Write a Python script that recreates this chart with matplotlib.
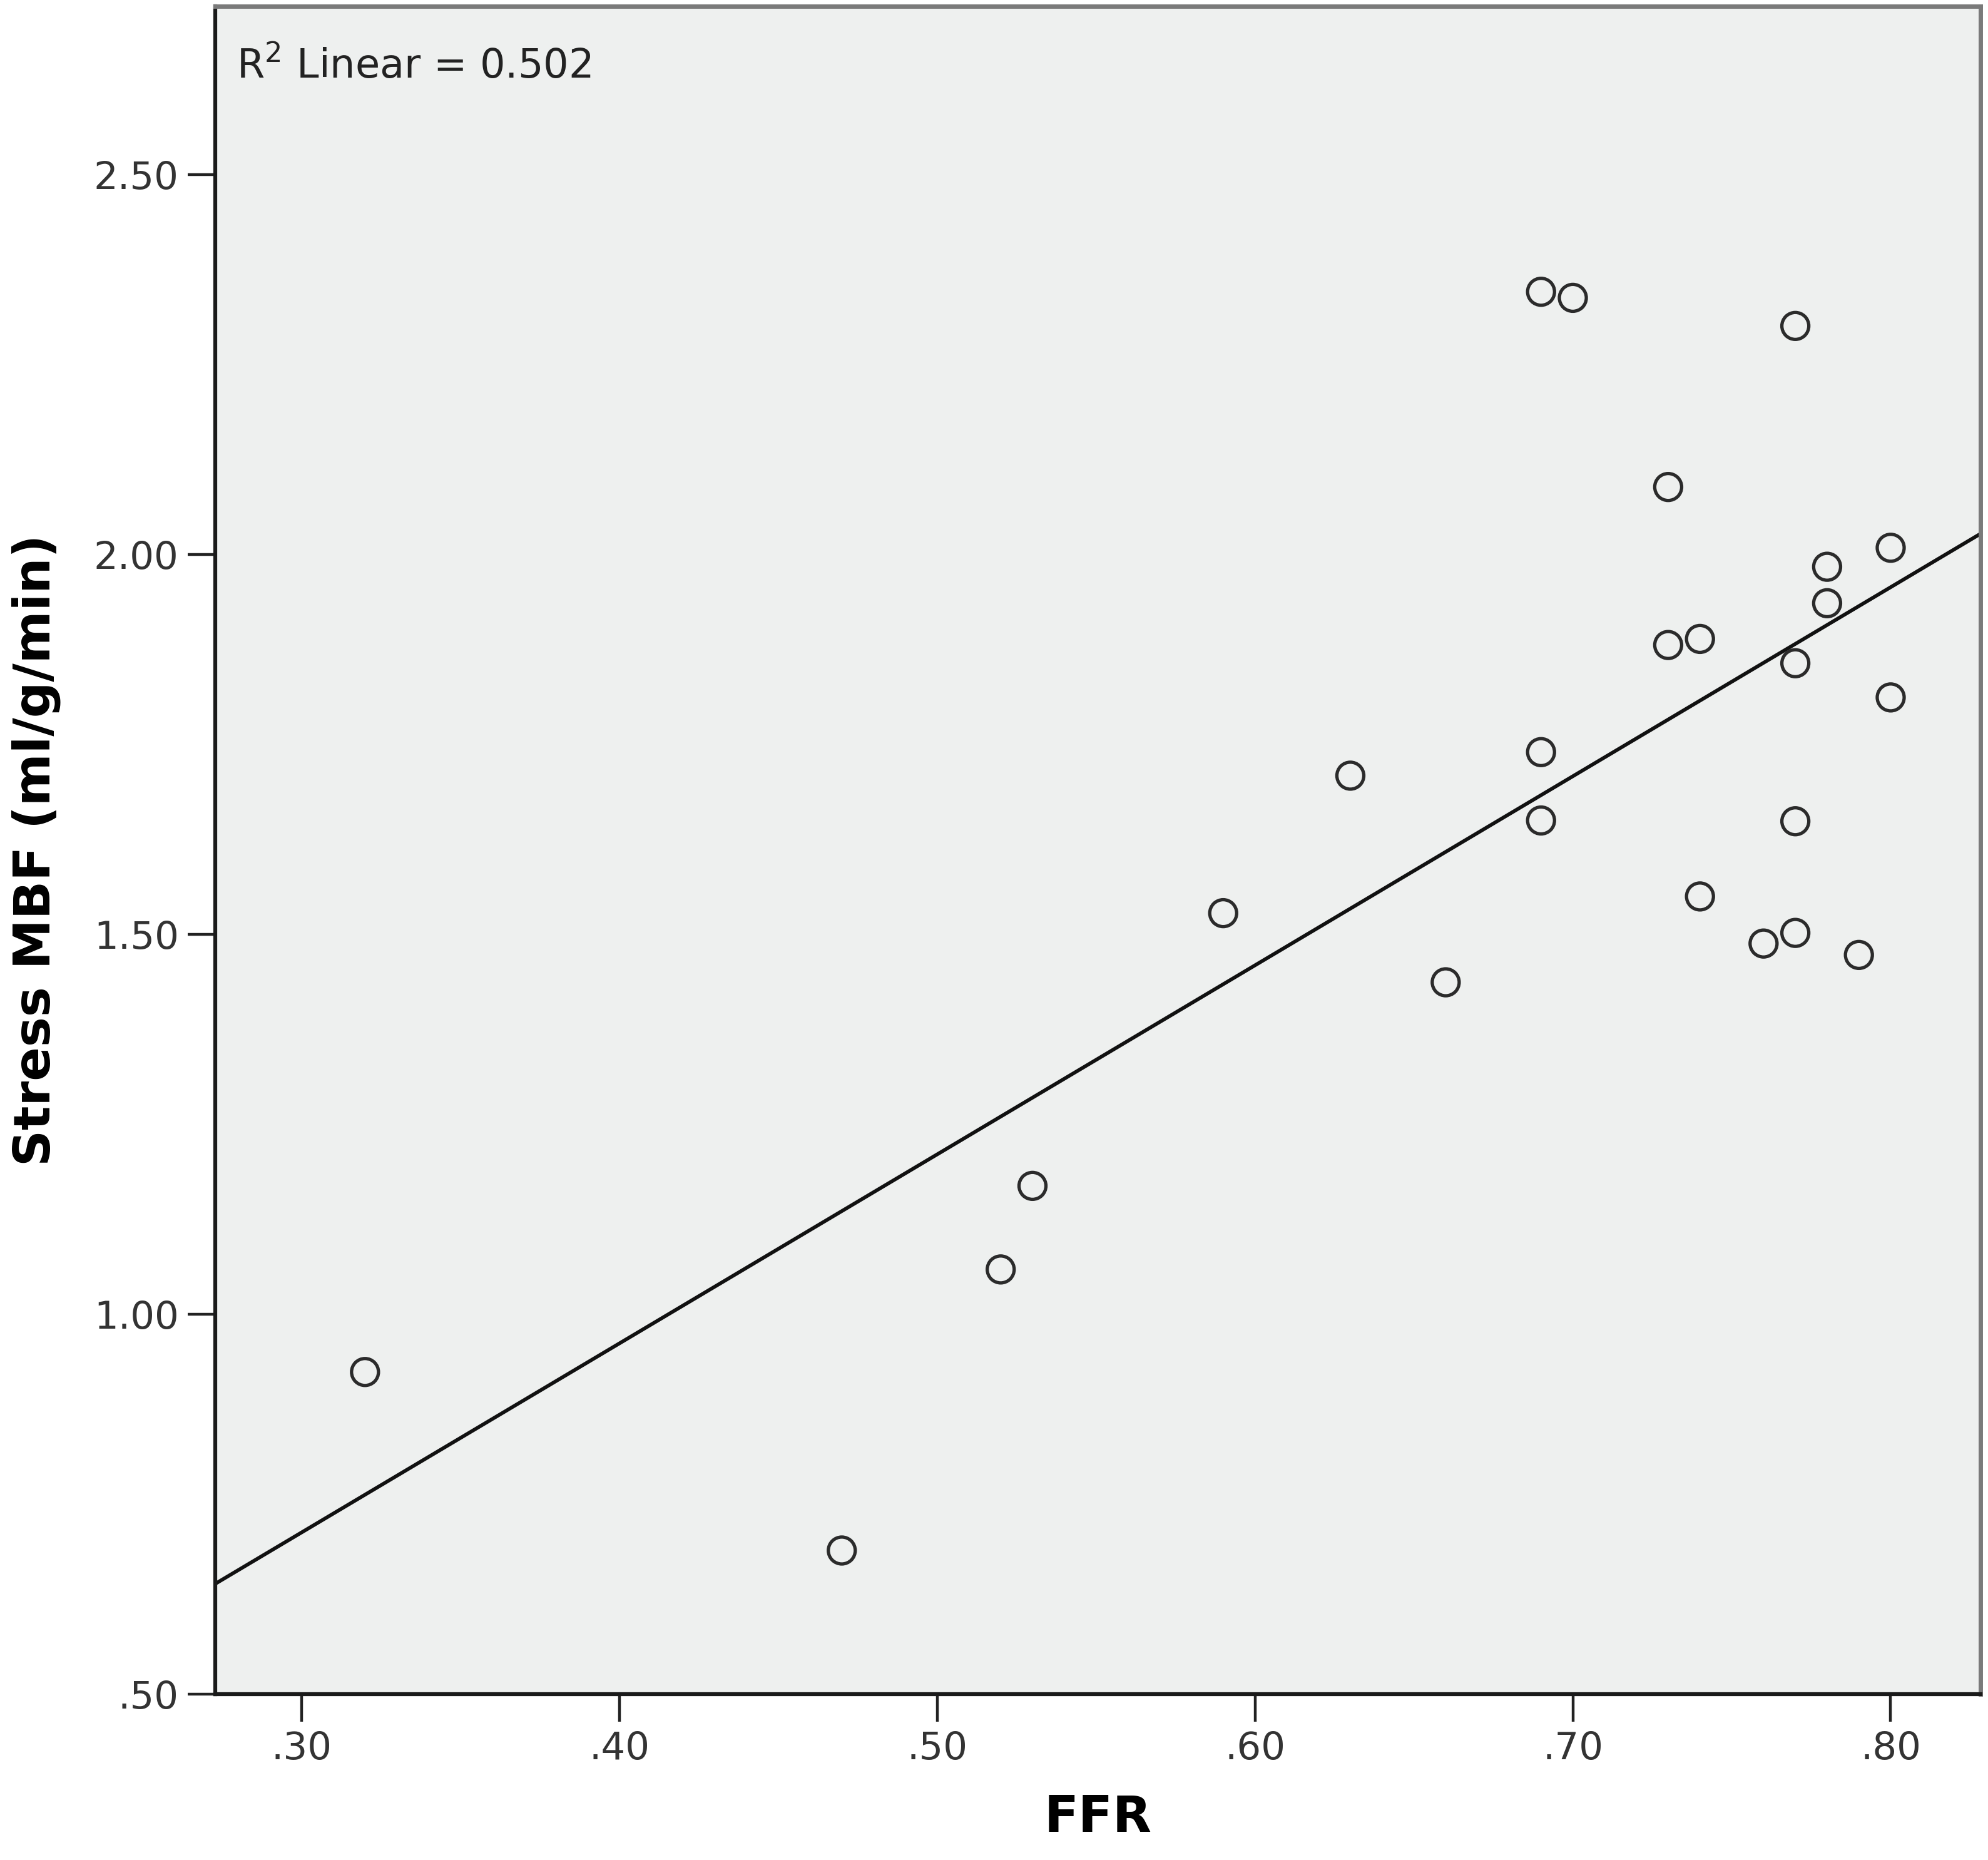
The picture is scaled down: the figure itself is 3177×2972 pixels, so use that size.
import numpy as np
import matplotlib
matplotlib.use("Agg")
from matplotlib import pyplot as plt

# values
ffr = [0.32, 0.47, 0.52, 0.53, 0.59, 0.63, 0.66, 0.69, 0.70, 0.69, 0.69,
       0.73, 0.73, 0.74, 0.74, 0.76, 0.77, 0.77, 0.77, 0.77, 0.78, 0.78,
       0.79, 0.80, 0.80]
stress_mbf = [0.924, 0.689, 1.059, 1.169, 1.528, 1.709, 1.437, 2.346, 2.338,
              1.740, 1.650, 2.089, 1.881, 1.889, 1.550, 1.488, 2.301, 1.857,
              1.649, 1.502, 1.984, 1.936, 1.473, 2.009, 1.812]

x_ticks = [0.30, 0.40, 0.50, 0.60, 0.70, 0.80]
x_tick_labels = ['.30', '.40', '.50', '.60', '.70', '.80']
y_ticks = [0.50, 1.00, 1.50, 2.00, 2.50]
y_tick_labels = ['.50', '1.00', '1.50', '2.00', '2.50']
r2_label = 0.502

x_lim = (0.2729, 0.8283)
y_lim = (0.50, 2.722)

fig = plt.figure(figsize=(31.77, 29.72), dpi=100)
ax = fig.add_axes([0.1083, 0.0892, 0.888, 0.9075])
ax.set_facecolor('#eef0ef')

ax.scatter(ffr, stress_mbf, s=31 ** 2, facecolors='none',
           edgecolors='#2b2b2b', linewidths=3.8, zorder=3)

slope, intercept = np.polyfit(ffr, stress_mbf, 1)
xs = np.array(x_lim)
ax.plot(xs, slope * xs + intercept, color='#111111', lw=4.2, zorder=2)

ax.set_xlim(*x_lim)
ax.set_ylim(*y_lim)
ax.set_xticks(x_ticks)
ax.set_xticklabels(x_tick_labels)
ax.set_yticks(y_ticks)
ax.set_yticklabels(y_tick_labels)
ax.tick_params(axis='both', direction='out', length=32, width=3.2,
               color='#222222', labelsize=44, labelcolor='#333333', pad=10)

for side in ['left', 'bottom']:
    ax.spines[side].set_color('#1a1a1a')
    ax.spines[side].set_linewidth(4.5)
for side in ['top', 'right']:
    ax.spines[side].set_color('#7a7a7a')
    ax.spines[side].set_linewidth(5)

ax.set_xlabel('FFR', fontsize=58, fontweight='bold', labelpad=30)
ax.set_ylabel('Stress MBF (ml/g/min)', fontsize=58, fontweight='bold',
              labelpad=38)

ax.text(0.012, 0.964, 'R$^2$ Linear = %.3f' % r2_label, transform=ax.transAxes,
        fontsize=46, color='#222222', va='center', ha='left')

fig.savefig('out.png', dpi=100)
